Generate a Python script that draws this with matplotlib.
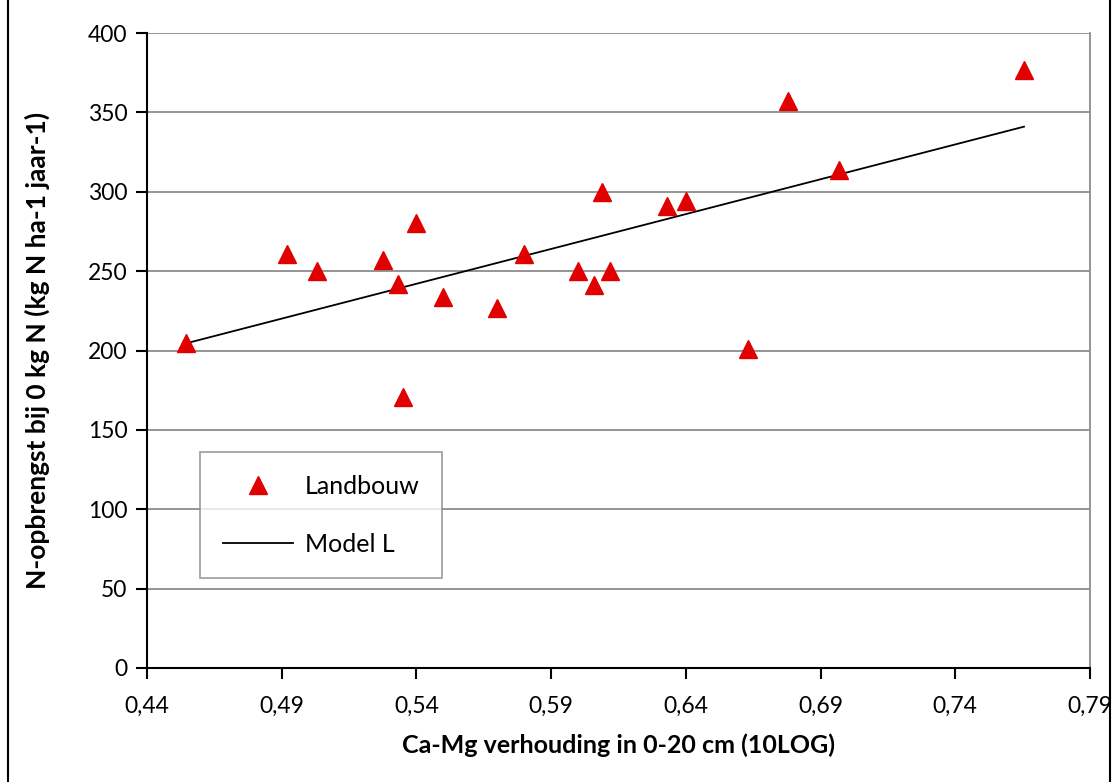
import numpy as np
import matplotlib.pyplot as plt
from matplotlib.ticker import FuncFormatter, FixedLocator, MultipleLocator

plt.rcParams['font.family'] = ['Lato', 'DejaVu Sans']

# meetpunten Landbouw
ca_mg = [0.4545, 0.492, 0.503, 0.5276, 0.533, 0.535, 0.540, 0.550, 0.570, 0.580,
         0.600, 0.606, 0.609, 0.612, 0.633, 0.640, 0.663, 0.678, 0.697, 0.7655]
n_opbr = [205, 261, 250, 257, 242, 171, 280, 234, 227, 261,
          250, 241, 300, 250, 291, 294, 201, 357, 314, 377]

# model L (lijn)
model_x = [0.4545, 0.7655]
model_y = [204.5, 341]

x_ticks = [0.44, 0.49, 0.54, 0.59, 0.64, 0.69, 0.74, 0.79]

fig = plt.figure(figsize=(11.17, 7.82), dpi=100)
ax = fig.add_axes([147 / 1117, 1 - 668 / 782, (1090 - 147) / 1117, (668 - 33) / 782])

ax.plot(ca_mg, n_opbr, '^', color='#e00000', ms=13, label='Landbouw', zorder=3)
ax.plot(model_x, model_y, '-', color='black', lw=1.3, label='Model L', zorder=2)

ax.set_xlim(0.44, 0.79)
ax.set_ylim(0, 400)
ax.xaxis.set_major_locator(FixedLocator(x_ticks))
ax.yaxis.set_major_locator(MultipleLocator(50))
ax.xaxis.set_major_formatter(FuncFormatter(lambda v, p: ('%.2f' % v).replace('.', ',')))
ax.grid(axis='y', color='#8c8c8c', lw=1.3)
ax.set_axisbelow(True)

ax.spines['right'].set_color('#8c8c8c')
ax.spines['right'].set_linewidth(1.3)
ax.spines['top'].set_visible(False)
for s in ['left', 'bottom']:
    ax.spines[s].set_linewidth(1.5)
ax.tick_params(direction='out', length=8, width=1.5, labelsize=16.5, pad=6)
ax.tick_params(axis='x', pad=12)

ax.set_xlabel('Ca-Mg verhouding in 0-20 cm (10LOG)', fontsize=18, fontweight='bold', labelpad=12)
ax.set_ylabel('N-opbrengst bij 0 kg N (kg N ha-1 jaar-1)', fontsize=19, fontweight='bold', labelpad=27)

leg = ax.legend(loc='upper left', bbox_to_anchor=((200 - 147) / 943, (668 - 452) / 635),
                fontsize=18, frameon=True, fancybox=False, edgecolor='#8c8c8c',
                borderpad=0.9, labelspacing=1.4, handlelength=2.8, handletextpad=0.5,
                borderaxespad=0)
leg.get_frame().set_linewidth(1.3)

# rand om de figuur
fig.add_artist(plt.Line2D([8 / 1117, 8 / 1117], [0, 1], color='black', lw=1.5))
fig.add_artist(plt.Line2D([1110 / 1117, 1110 / 1117], [0, 1], color='black', lw=1.5))

fig.savefig('out.png', dpi=100)
